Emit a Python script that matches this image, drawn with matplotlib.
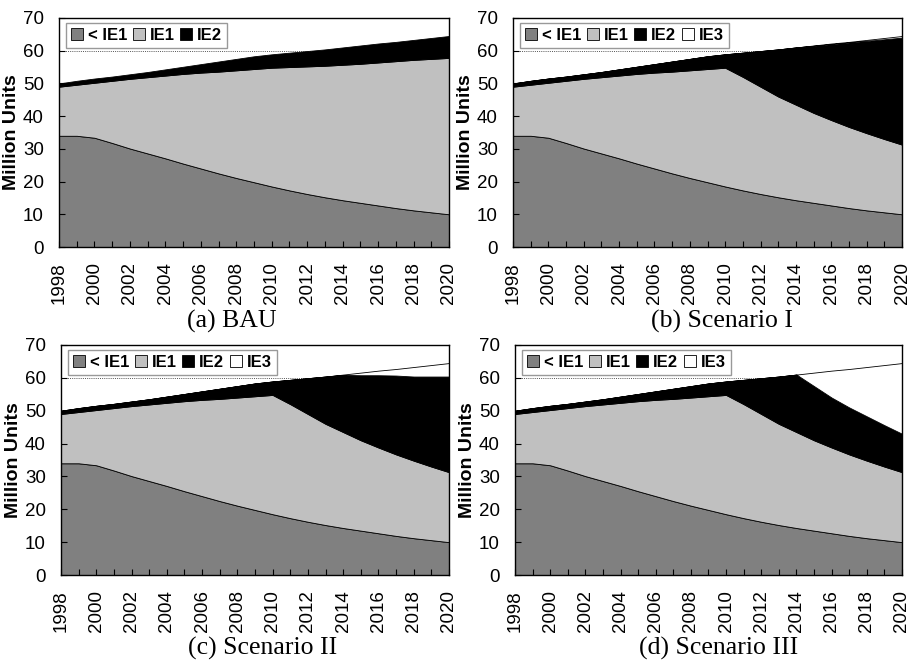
import matplotlib
matplotlib.use("Agg")
import matplotlib.pyplot as plt
import numpy as np

years = list(range(1998, 2021))

# Total stock (million units)
total = [50.0, 50.8, 51.5, 52.1, 52.8, 53.5, 54.3, 55.1, 55.9, 56.7, 57.5, 58.3,
         58.9, 59.4, 59.9, 60.4, 61.0, 61.6, 62.2, 62.7, 63.3, 63.9, 64.5]

# Units below the IE1 efficiency level (same in every scenario)
below_ie1 = [34.0, 34.0, 33.4, 31.8, 30.1, 28.6, 27.1, 25.5, 24.0, 22.5, 21.1, 19.8,
             18.5, 17.3, 16.2, 15.2, 14.3, 13.5, 12.7, 11.9, 11.2, 10.6, 10.0]

# BAU
bau_ie1 = [15.0, 15.6, 16.8, 19.0, 21.3, 23.3, 25.3, 27.4, 29.3, 31.1, 32.9, 34.6,
           36.3, 37.7, 39.0, 40.2, 41.4, 42.5, 43.7, 44.9, 46.0, 46.9, 47.8]
bau_ie2 = [1.0, 1.2, 1.3, 1.3, 1.4, 1.6, 1.9, 2.2, 2.6, 3.1, 3.5, 3.9,
           4.1, 4.4, 4.7, 5.0, 5.3, 5.6, 5.8, 5.9, 6.1, 6.4, 6.7]

# IE1 units under the policy scenarios (I, II, III)
scen_ie1 = [15.0, 15.6, 16.8, 19.0, 21.3, 23.3, 25.3, 27.4, 29.3, 31.1, 32.9, 34.6,
            36.3, 34.7, 32.8, 30.8, 29.2, 27.5, 26.1, 24.8, 23.6, 22.4, 21.3]

# Scenario I
s1_ie2 = [1.0, 1.2, 1.3, 1.3, 1.4, 1.6, 1.9, 2.2, 2.6, 3.1, 3.5, 3.9,
          4.1, 7.4, 10.9, 14.4, 17.5, 20.5, 23.2, 25.8, 28.2, 30.5, 32.7]
s1_ie3 = [0, 0, 0, 0, 0, 0, 0, 0, 0, 0, 0, 0,
          0, 0, 0, 0, 0, 0.1, 0.2, 0.2, 0.3, 0.4, 0.5]

# Scenario II
s2_ie2 = [1.0, 1.2, 1.3, 1.3, 1.4, 1.6, 1.9, 2.2, 2.6, 3.1, 3.5, 3.9,
          4.1, 7.4, 10.9, 14.4, 17.4, 19.8, 22.0, 24.0, 25.6, 27.4, 29.1]
s2_ie3 = [0, 0, 0, 0, 0, 0, 0, 0, 0, 0, 0, 0,
          0, 0, 0, 0, 0.1, 0.8, 1.4, 2.0, 2.9, 3.5, 4.1]

# Scenario III
s3_ie2 = [1.0, 1.2, 1.3, 1.3, 1.4, 1.6, 1.9, 2.2, 2.6, 3.1, 3.5, 3.9,
          4.1, 7.4, 10.9, 14.4, 17.5, 16.5, 15.2, 14.3, 13.5, 12.6, 11.7]
s3_ie3 = [0, 0, 0, 0, 0, 0, 0, 0, 0, 0, 0, 0,
          0, 0, 0, 0, 0, 4.1, 8.2, 11.7, 15.0, 18.3, 21.5]

labels = ["< IE1", "IE1", "IE2", "IE3"]
colors = ["#808080", "#c0c0c0", "#000000", "#ffffff"]
ref_level = 60

panels = [
    ("(a) BAU", [below_ie1, bau_ie1, bau_ie2]),
    ("(b) Scenario I", [below_ie1, scen_ie1, s1_ie2, s1_ie3]),
    ("(c) Scenario II", [below_ie1, scen_ie1, s2_ie2, s2_ie3]),
    ("(d) Scenario III", [below_ie1, scen_ie1, s3_ie2, s3_ie3]),
]

W, H = 909, 661
fig = plt.figure(figsize=(W / 100, H / 100), dpi=100)

# axes boxes in pixels: left, top, right, bottom
boxes = [(59, 18, 449, 247), (513, 18, 902, 247),
         (61, 345, 449, 575), (515, 345, 902, 575)]
caption_pos = [(232, 321), (722, 321), (263, 648), (719, 648)]

sans = "Liberation Sans"
serif = "Liberation Serif"

for (title, series), (l, t, r, b), (cx, cy) in zip(panels, boxes, caption_pos):
    ax = fig.add_axes([l / W, 1 - b / H, (r - l) / W, (b - t) / H])
    n = len(series)
    ax.plot([years[0], years[-1]], [ref_level, ref_level], linestyle=(0, (1, 1.2)),
            color="#555555", linewidth=0.7, zorder=0.5)
    ax.stackplot(years, *series, labels=labels[:n], colors=colors[:n],
                 edgecolor="black", linewidth=0.6, zorder=1)
    ax.set_xlim(1998, 2020)
    ax.set_ylim(0, 70)
    ax.set_xticks(range(1998, 2021, 2))
    ax.set_xticks(range(1998, 2021), minor=True)
    ax.set_yticks(range(0, 71, 10))
    ax.tick_params(axis="x", which="both", direction="in", length=4, width=0.8,
                   top=False, labelrotation=90, pad=11)
    ax.tick_params(axis="y", direction="in", length=4, width=0.8, right=False, pad=11)
    for lab in ax.get_xticklabels() + ax.get_yticklabels():
        lab.set_fontfamily(sans)
        lab.set_fontsize(13.5)
    for sp in ax.spines.values():
        sp.set_linewidth(1.0)
        sp.set_color("black")
    ax.set_ylabel("Million Units", fontfamily=sans, fontweight="bold",
                  fontsize=14, labelpad=2)
    leg = ax.legend(loc="upper left", bbox_to_anchor=(0.018, 0.978), ncol=n,
                    frameon=True, fancybox=False, borderaxespad=0,
                    prop={"family": sans, "weight": "bold", "size": 12},
                    handlelength=0.7, handleheight=0.7, handletextpad=0.3,
                    columnspacing=0.35, borderpad=0.3)
    leg.get_frame().set_edgecolor("#808080")
    leg.get_frame().set_linewidth(1.0)
    fig.text(cx / W, 1 - cy / H, title, ha="center", va="center",
             fontfamily=serif, fontsize=18.5)

fig.savefig("out.png", dpi=100)
